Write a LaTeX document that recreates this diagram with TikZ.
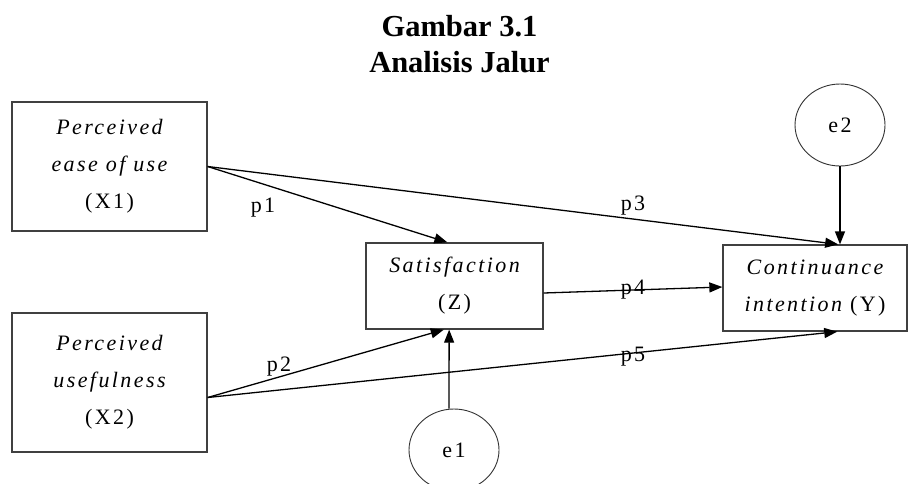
\documentclass[tikz,border=0pt]{standalone}
\usepackage{fontspec}
\setmainfont{Liberation Serif}
\newfontfamily\boxfont{Liberation Serif}[LetterSpace=11]
\usetikzlibrary{arrows.meta,calc,shapes.geometric}
\begin{document}
\begin{tikzpicture}[x=1pt,y=-1pt,
  varbox/.style={draw=black!75,line width=1.3pt,inner sep=0pt,align=center,
    font={\boxfont\fontsize{22}{37}\selectfont}},
  errnode/.style={ellipse,draw=black!80,line width=0.9pt,inner sep=0pt,
    minimum width=90pt,minimum height=82pt,font={\boxfont\fontsize{22}{24}\selectfont}},
  lab/.style={inner sep=0pt,font={\boxfont\fontsize{22}{24}\selectfont}},
  arr/.style={line width=1.3pt,-{Triangle[length=13pt,width=10pt]}},
  ttl/.style={inner sep=0pt,anchor=base,font={\bfseries\fontsize{30.5}{34}\selectfont}}]
\useasboundingbox (0,0) rectangle (909,483);
\fill[white] (0,0) rectangle (909,483);
% title
\node[ttl] (t1) at (459.5,36) {Gambar 3.1};
\node[ttl] (t2) at (459.5,72) {Analisis Jalur};
% boxes
\node[varbox,minimum width=195pt,minimum height=129pt] (x1) at (109.5,166.5)
  {\itshape Perceived\\ \itshape ease of use\\ (X1)};
\node[varbox,minimum width=195pt,minimum height=139pt] (x2) at (109.5,382.5)
  {\itshape Perceived\\ \itshape usefulness\\ (X2)};
\node[varbox,minimum width=177pt,minimum height=86pt] (z) at (454.5,286)
  {\itshape Satisfaction\\ (Z)};
\node[varbox,minimum width=184pt,minimum height=86pt] (y) at (815,288)
  {\itshape Continuance\\ {\itshape intention} (Y)};
% error terms
\node[errnode] (e2) at (840,125) {e2};
\node[errnode] (e1) at (454,450) {e1};
% connectors
\coordinate (x2o) at ($(x2.east)+(0,15)$);
\draw[arr] (x1.east) -- ($(z.north west)!0.46!(z.north east)$);
\draw[arr] (x1.east) -- ($(y.north west)!0.625!(y.north east)$);
\draw[arr] (x2o) -- ($(z.south west)!0.44!(z.south east)$);
\draw[arr] (x2o) -- ($(y.south west)!0.62!(y.south east)$);
\draw[arr] ($(z.east)+(0,7)$) -- ($(y.west)+(0,-1)$);
\draw[arr] ($(e1.north)+(-5,0)$) -- ($(z.south west)!0.47!(z.south east)$);
\draw[arr] (e2.south) -- (e2.south |- y.north);
% labels
\node[lab] (p1) at (263,208) {p1};
\node[lab] (p2) at (279,367) {p2};
\node[lab] (p3) at (633,206) {p3};
\node[lab] (p4) at (633,290) {p4};
\node[lab] (p5) at (633,357) {p5};
\end{tikzpicture}
\end{document}
